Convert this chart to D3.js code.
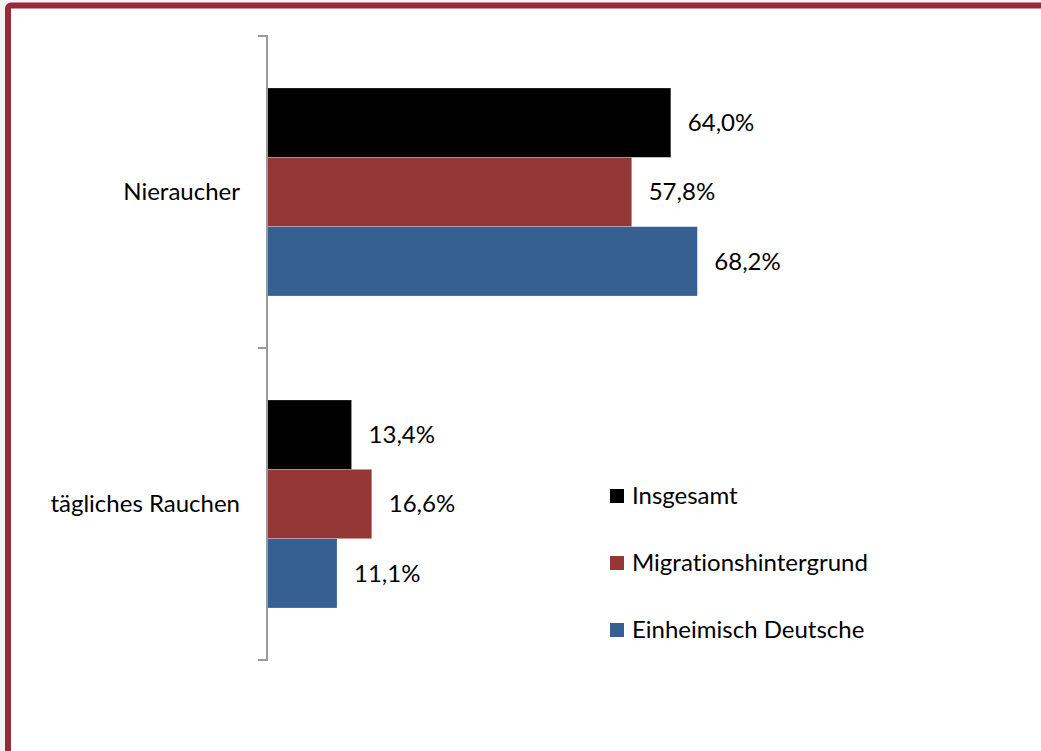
<!DOCTYPE html>
<html><head><meta charset="utf-8">
<script src="https://cdn.jsdelivr.net/npm/d3@7"></script>
<style>html,body{margin:0;padding:0;background:#f2f2f2;overflow:hidden} text{font-variant-ligatures:none}</style>
</head><body>
<script>
const categories = ["Nieraucher", "tägliches Rauchen"];
const seriesNames = ["Insgesamt", "Migrationshintergrund", "Einheimisch Deutsche"];
const insgesamt = [64.0, 13.4];
const migration = [57.8, 16.6];
const einheimisch = [68.2, 11.1];
const seriesColors = ["#000000", "#953735", "#376092"];

const W = 1041, H = 751;
const svg = d3.select("body").append("svg").attr("width", W).attr("height", H);
const font = "Lato, 'Open Sans', sans-serif";
const fs = 24;

// frame
svg.append("rect").attr("x", 8).attr("y", 5.5).attr("width", W + 20).attr("height", 750)
  .attr("rx", 3).attr("fill", "#fff").attr("stroke", "#952a3c").attr("stroke-width", 6);

const series = [insgesamt, migration, einheimisch];
const x = d3.scaleLinear().domain([0, 100]).range([267, 898]);
const y = d3.scaleBand().domain(categories).range([36, 660]);
const inner = d3.scaleBand().domain(seriesNames).range([0, y.bandwidth()]).paddingOuter(0.75);

// bars
categories.forEach((c, ci) => {
  series.forEach((s, si) => {
    const by = y(c) + inner(seriesNames[si]);
    svg.append("rect").attr("x", x(0)).attr("y", by)
      .attr("width", x(s[ci]) - x(0)).attr("height", inner.bandwidth())
      .attr("fill", seriesColors[si]).attr("stroke", "rgba(255,255,255,0.35)").attr("stroke-width", 0.7);
    svg.append("text").attr("x", x(s[ci]) + 17).attr("y", by + inner.bandwidth() / 2)
      .attr("dy", "0.35em").attr("font-family", font).attr("font-size", fs).attr("fill", "#000")
      .text(s[ci].toFixed(1).replace(".", ",") + "%");
  });
});

// axis
const axis = d3.axisLeft(y).tickSize(0).tickPadding(27);
const g = svg.append("g").attr("transform", "translate(267,0)").call(axis);
g.select(".domain").attr("stroke", "#9a9a9a").attr("stroke-width", 2).attr("d", "M-9,36H0V660H-9");
g.selectAll("text").attr("font-family", font).attr("font-size", fs).attr("fill", "#000");
// boundary tick
svg.append("line").attr("x1", 258).attr("x2", 267).attr("y1", y.step() + 36).attr("y2", y.step() + 36)
  .attr("stroke", "#9a9a9a").attr("stroke-width", 2);

// legend
const lg = svg.append("g");
seriesNames.forEach((n, i) => {
  const ly = 496 + i * 67;
  lg.append("rect").attr("x", 610).attr("y", ly - 7).attr("width", 14).attr("height", 14).attr("fill", seriesColors[i]);
  lg.append("text").attr("x", 632).attr("y", ly).attr("dy", "0.35em")
    .attr("font-family", font).attr("font-size", fs).attr("fill", "#000").text(n);
});
</script>
</body></html>
